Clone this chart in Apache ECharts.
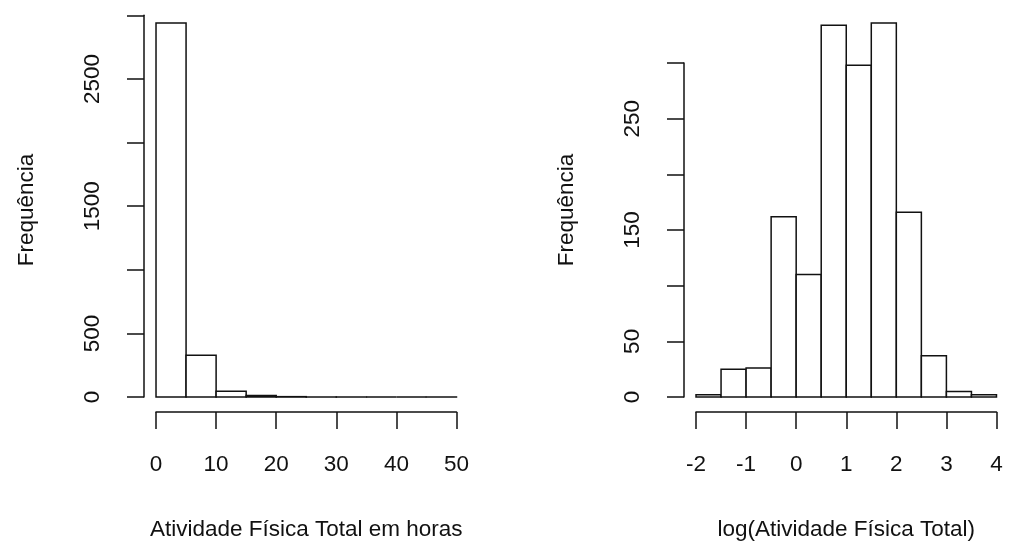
<!DOCTYPE html>
<html>
<head>
<meta charset="utf-8">
<script src="https://cdn.jsdelivr.net/npm/echarts@6/dist/echarts.min.js"></script>
<style>
  html, body { margin: 0; padding: 0; background: #fff; }
  #chart { width: 1011px; height: 549px; }
</style>
</head>
<body>
<div id="chart"></div>
<script>
// Total physical activity in hours: histogram bin edges and counts
const hoursBreaks = [0, 5, 10, 15, 20, 25, 30, 35, 40, 45, 50];
const hoursCounts = [2940, 328, 45, 12, 3, 1, 1, 0, 0, 1];
const hoursXTicks = [0, 10, 20, 30, 40, 50];
const hoursYTicks = [0, 500, 1000, 1500, 2000, 2500, 3000];
const hoursYLabels = [0, 500, 1500, 2500];

// log of total physical activity: histogram bin edges and counts
const logBreaks = [-2, -1.5, -1, -0.5, 0, 0.5, 1, 1.5, 2, 2.5, 3, 3.5, 4];
const logCounts = [2, 25, 26, 162, 110, 334, 298, 336, 166, 37, 5, 2];
const logXTicks = [-2, -1, 0, 1, 2, 3, 4];
const logYTicks = [0, 50, 100, 150, 200, 250, 300];
const logYLabels = [0, 50, 150, 250];

const xTitles = ['Atividade Física Total em horas', 'log(Atividade Física Total)'];
const yTitle = 'Frequência';

const FONT = "'Liberation Sans', Arial, Helvetica, sans-serif";
const INK = '#111';
const LINE_W = 1.5;
const FS = 22.5;

// plot regions (pixels)
const plotTop = 8, plotHeight = 404, plotWidth = 324.5;
const panels = [
  { left: 144, breaks: hoursBreaks, counts: hoursCounts, xTicks: hoursXTicks,
    yTicks: hoursYTicks, yLabels: hoursYLabels, xTitle: xTitles[0] },
  { left: 684, breaks: logBreaks, counts: logCounts, xTicks: logXTicks,
    yTicks: logYTicks, yLabels: logYLabels, xTitle: xTitles[1] }
];

const grid = [], xAxis = [], yAxis = [], series = [];

panels.forEach((p, i) => {
  const xMin = p.breaks[0], xMax = p.breaks[p.breaks.length - 1];
  const xPad = 0.04 * (xMax - xMin);
  const pxX = plotWidth / (xMax - xMin + 2 * xPad);
  const yMax = Math.max(...p.counts);
  const pxY = plotHeight / (1.08 * yMax);
  const zeroY = plotTop + plotHeight - 0.04 * yMax * pxY;
  const yTop = p.yTicks[p.yTicks.length - 1];
  const base = grid.length;

  // plot region holding the bars
  grid.push({ left: p.left, top: plotTop, width: plotWidth, height: plotHeight, outerBoundsMode: 'none' });
  // bottom axis: spans first to last tick
  grid.push({ left: p.left + xPad * pxX, width: (xMax - xMin) * pxX,
              top: plotTop + plotHeight - 10, height: 10, outerBoundsMode: 'none' });
  // left axis: spans first to last tick
  grid.push({ left: p.left, width: 10, top: zeroY - yTop * pxY,
              height: yTop * pxY, outerBoundsMode: 'none' });

  const off = { axisLine: { show: false }, axisTick: { show: false },
                axisLabel: { show: false }, splitLine: { show: false } };

  xAxis.push(Object.assign({
    gridIndex: base, type: 'value', min: xMin - xPad, max: xMax + xPad,
    name: p.xTitle, nameLocation: 'middle', nameGap: 106,
    nameTextStyle: { fontFamily: FONT, fontSize: FS, color: INK }
  }, off));
  xAxis.push({
    gridIndex: base + 1, type: 'value', min: xMin, max: xMax,
    interval: p.xTicks[1] - p.xTicks[0], position: 'bottom',
    axisLine: { show: true, lineStyle: { color: INK, width: LINE_W } },
    axisTick: { show: true, length: 17, inside: false, lineStyle: { color: INK, width: LINE_W } },
    axisLabel: { show: true, margin: 41, fontFamily: FONT, fontSize: FS, color: INK,
                 showMinLabel: true, showMaxLabel: true },
    splitLine: { show: false }
  });
  xAxis.push({ gridIndex: base + 2, type: 'value', show: false });

  yAxis.push(Object.assign({
    gridIndex: base, type: 'value', min: -0.04 * yMax, max: 1.04 * yMax,
    name: yTitle, nameLocation: 'middle', nameGap: 106,
    nameTextStyle: { fontFamily: FONT, fontSize: FS, color: INK }
  }, off));
  yAxis.push({ gridIndex: base + 1, type: 'value', show: false });
  yAxis.push({
    gridIndex: base + 2, type: 'value', min: 0, max: yTop,
    interval: p.yTicks[1] - p.yTicks[0], position: 'left',
    axisLine: { show: true, lineStyle: { color: INK, width: LINE_W } },
    axisTick: { show: true, length: 17, inside: false, lineStyle: { color: INK, width: LINE_W } },
    axisLabel: { show: true, rotate: 90, margin: 40, fontFamily: FONT, fontSize: FS, color: INK,
                 showMinLabel: true, showMaxLabel: true,
                 formatter: v => (p.yLabels.indexOf(v) >= 0 ? String(v) : '') },
    splitLine: { show: false }
  });

  series.push({
    type: 'custom',
    xAxisIndex: base, yAxisIndex: base,
    data: p.counts.map((c, k) => [p.breaks[k], p.breaks[k + 1], c]),
    encode: { x: [0, 1], y: 2 },
    renderItem: (params, api) => {
      const a = api.coord([api.value(0), 0]);
      const b = api.coord([api.value(1), api.value(2)]);
      return {
        type: 'rect',
        shape: { x: a[0], y: b[1], width: b[0] - a[0], height: a[1] - b[1] },
        style: { fill: '#fff', stroke: INK, lineWidth: LINE_W }
      };
    }
  });
});

const chart = echarts.init(document.getElementById('chart'), null, { renderer: 'canvas' });
chart.setOption({
  animation: false,
  backgroundColor: '#fff',
  grid, xAxis, yAxis, series
});
</script>
</body>
</html>
